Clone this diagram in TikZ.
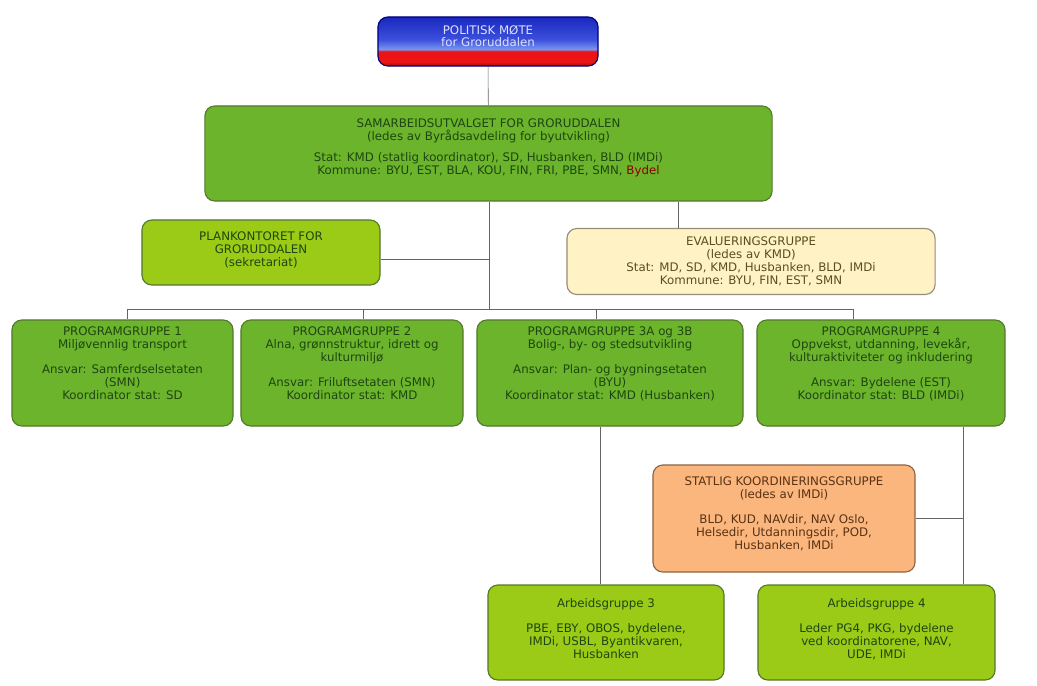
\documentclass[tikz,border=0pt]{standalone}
\usepackage{fontspec}
\setmainfont{DejaVu Sans}
\usepackage{tikz}
\usetikzlibrary{calc,shadows}

\definecolor{grgreen}{RGB}{108,180,44}
\definecolor{grlime}{RGB}{155,203,22}
\definecolor{grborder}{RGB}{84,120,44}
\definecolor{grtext}{RGB}{30,70,16}
\definecolor{evalfill}{RGB}{255,242,196}
\definecolor{evalborder}{RGB}{150,140,120}
\definecolor{evaltext}{RGB}{90,80,30}
\definecolor{statfill}{RGB}{250,182,124}
\definecolor{statborder}{RGB}{140,100,70}
\definecolor{stattext}{RGB}{90,50,20}
\definecolor{linegray}{RGB}{100,100,100}
\definecolor{motered}{RGB}{235,20,20}
\definecolor{motedark}{RGB}{150,10,20}
\definecolor{motelight}{RGB}{120,150,240}
\definecolor{moteblue}{RGB}{60,80,220}
\definecolor{motedeep}{RGB}{25,40,190}
\pgfdeclareverticalshading{politisk}{100bp}{color(0bp)=(motedark); color(25bp)=(motedark); color(29bp)=(motered); color(40bp)=(motered); color(42bp)=(motelight); color(52bp)=(moteblue); color(75bp)=(motedeep); color(100bp)=(motedeep)}

\tikzset{
  box/.style={draw=grborder, line width=0.8pt, rounded corners=7pt, align=center,
    font=\fontsize{8.4}{9.2}\selectfont, inner sep=2pt},
  greenbox/.style={box, fill=grgreen, text=grtext},
  limebox/.style={box, fill=grlime, text=grtext},
}

\begin{document}
\begin{tikzpicture}[x=0.025cm, y=-0.025cm, draw=linegray]
      \useasboundingbox (0,0) rectangle (1037,685);
      \node[box, shading=politisk, draw=blue!50!black, text=blue!12!white,
        minimum width=5.5cm, minimum height=1.225cm] (mote) at (488,41.5)
        {POLITISK MØTE\\for Groruddalen\\[-1.4pt]};
      \node[greenbox, minimum width=14.175cm, minimum height=2.375cm] (samarb) at (488.5,153.5)
        {SAMARBEIDSUTVALGET FOR GRORUDDALEN\\(ledes av Byrådsavdeling for byutvikling)\\[6pt]
         Stat: KMD (statlig koordinator), SD, Husbanken, BLD (IMDi)\\
         Kommune: BYU, EST, BLA, KOU, FIN, FRI, PBE, SMN, \textcolor{red!55!black}{Bydel}\\[1pt]};
      \node[limebox, minimum width=5.95cm, minimum height=1.625cm] (plan) at (261,252.5)
        {PLANKONTORET FOR\\GRORUDDALEN\\(sekretariat)\\[-4.2pt]};
      \node[box, fill=evalfill, draw=evalborder, text=evaltext,
        minimum width=9.2cm, minimum height=1.65cm] (eval) at (751,261.5)
        {EVALUERINGSGRUPPE\\(ledes av KMD)\\Stat: MD, SD, KMD, Husbanken, BLD, IMDi\\Kommune: BYU, FIN, EST, SMN};
      % programgrupper
      \node[greenbox, minimum width=5.525cm, minimum height=2.65cm] (pg1) at (122.5,373)
        {PROGRAMGRUPPE 1\\Miljøvennlig transport\\[9pt]
         Ansvar: Samferdselsetaten\\(SMN)\\Koordinator stat: SD\\[5pt]};
      \node[greenbox, minimum width=5.55cm, minimum height=2.65cm] (pg2) at (352,373)
        {PROGRAMGRUPPE 2\\Alna, grønnstruktur, idrett og\\kulturmiljø\\[9pt]
         Ansvar: Friluftsetaten (SMN)\\Koordinator stat: KMD\\[5pt]};
      \node[greenbox, minimum width=6.65cm, minimum height=2.65cm] (pg3) at (610,373)
        {PROGRAMGRUPPE 3A og 3B\\Bolig-, by- og stedsutvikling\\[9pt]
         Ansvar: Plan- og bygningsetaten\\(BYU)\\Koordinator stat: KMD (Husbanken)\\[5pt]};
      \node[greenbox, minimum width=6.2cm, minimum height=2.65cm] (pg4) at (881,373)
        {PROGRAMGRUPPE 4\\Oppvekst, utdanning, levekår,\\kulturaktiviteter og inkludering\\[9pt]
         Ansvar: Bydelene (EST)\\Koordinator stat: BLD (IMDi)\\[5pt]};
      \node[box, fill=statfill, draw=statborder, text=stattext,
        minimum width=6.55cm, minimum height=2.675cm] (statlig) at (784,518.5)
        {STATLIG KOORDINERINGSGRUPPE\\(ledes av IMDi)\\[9pt]
         BLD, KUD, NAVdir, NAV Oslo,\\Helsedir, Utdanningsdir, POD,\\Husbanken, IMDi\\[-1.4pt]};
      % arbeidsgrupper
      \node[limebox, minimum width=5.9cm, minimum height=2.375cm] (ag3) at (606,632.5)
        {Arbeidsgruppe 3\\[9pt]
         PBE, EBY, OBOS, bydelene,\\IMDi, USBL, Byantikvaren,\\Husbanken\\[-3.5pt]};
      \node[limebox, minimum width=5.925cm, minimum height=2.375cm] (ag4) at (876.5,632.5)
        {Arbeidsgruppe 4\\[9pt]
         Leder PG4, PKG, bydelene\\ved koordinatorene, NAV,\\UDE, IMDi\\[-3.5pt]};
      % bus junctions
      \coordinate (bus) at (489,309);
      \coordinate (b1) at (127,309);
      \coordinate (b2) at (363,309);
      \coordinate (b3) at (596,309);
      \coordinate (b4) at (853,309);
      % vertical lines
      \draw (mote) -- (samarb);
      \draw (samarb.south -| bus) -- (bus);
      \draw (samarb.south -| 678,0) -- (eval.north -| 678,0);
      \draw (b1) -- (b1 |- pg1.north);
      \draw (b2) -- (b2 |- pg2.north);
      \draw (b3) -- (b3 |- pg3.north);
      \draw (b4) -- (b4 |- pg4.north);
      \draw (pg3.south -| 600,0) -- (ag3.north -| 600,0);
      \draw (pg4.south -| 963,0) -- (ag4.north -| 963,0);
      % horizontal lines
      \draw (b1) -- (b4);
      \draw (plan.east |- 0,259) -- (bus |- 0,259);
      \draw (statlig.east) -- (statlig.east -| 963,0);
    \end{tikzpicture}
\end{document}
